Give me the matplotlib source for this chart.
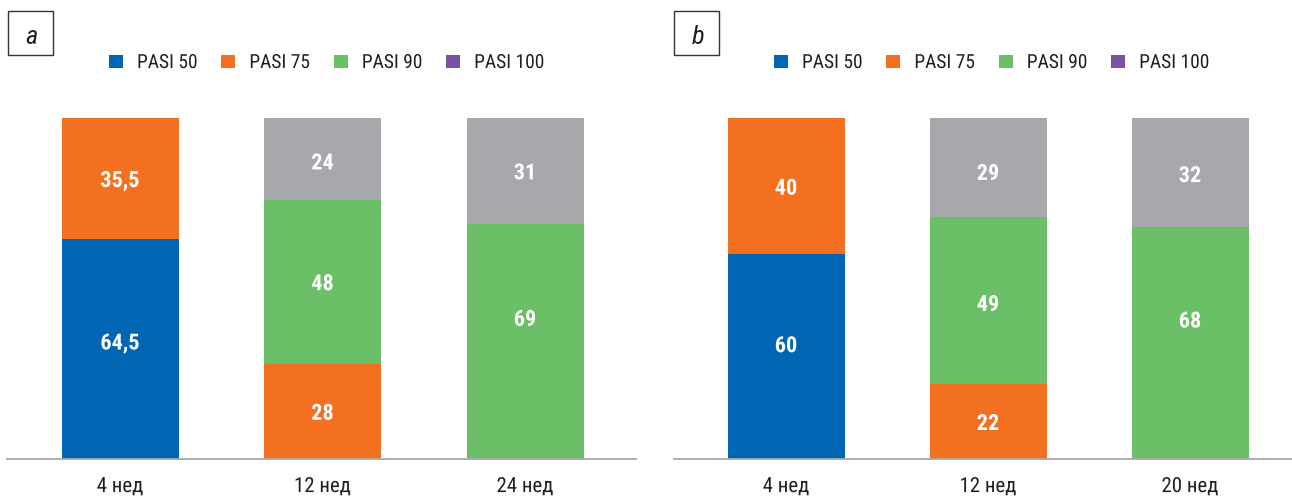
import matplotlib
matplotlib.use("Agg")
import matplotlib.pyplot as plt
from matplotlib.patches import Patch, Rectangle
from matplotlib.patheffects import AbstractPathEffect
from matplotlib.transforms import Affine2D
from matplotlib import font_manager

periods_a = ['4 нед', '12 нед', '24 нед']
pasi50_a = [64.5, 0, 0]
pasi75_a = [35.5, 28, 0]
pasi90_a = [0, 48, 69]
rest_a = [0, 24, 31]

periods_b = ['4 нед', '12 нед', '20 нед']
pasi50_b = [60, 0, 0]
pasi75_b = [40, 22, 0]
pasi90_b = [0, 49, 68]
rest_b = [0, 29, 32]

legend_labels = ['PASI 50', 'PASI 75', 'PASI 90', 'PASI 100']
legend_colors = ['#0066B3', '#F37021', '#6BBF67', '#7B52A3']
seg_colors = ['#0066B3', '#F37021', '#6BBF67', '#A7A8AB']

# label nudges in pixels (positive = up), per series, per bar (style only)
nudge_a = [[8, 0, 0], [0, 0, 0], [0, 0, 24], [0, -2, 0]]
nudge_b = [[13, 0, 0], [0, 0, 0], [0, -2, 24], [0, -4, -1]]

avail = {f.name for f in font_manager.fontManager.ttflist}
FONT = 'DejaVu Sans'
for cand in ['Roboto Condensed', 'Liberation Sans Narrow', 'Roboto', 'DejaVu Sans']:
    if cand in avail:
        FONT = cand
        break
plt.rcParams['font.family'] = [FONT, 'DejaVu Sans']
SX = 1.0 if 'Condensed' in FONT or 'Narrow' in FONT else None


class Condense(AbstractPathEffect):
    def __init__(self, sx, anchor='center'):
        super().__init__()
        self.sx = sx
        self.anchor = anchor

    def draw_path(self, renderer, gc, tpath, affine, rgbFace=None):
        ext = tpath.get_extents()
        cx = ext.x0 if self.anchor == 'left' else (ext.x0 + ext.x1) / 2
        t = Affine2D().translate(-cx, 0).scale(self.sx, 1).translate(cx, 0) + affine
        renderer.draw_path(gc, tpath, t, rgbFace)


def cond(sx, anchor='center'):
    if SX is not None:
        sx = 1.0
    return [Condense(sx, anchor)]


W, H = 1292, 499
fig = plt.figure(figsize=(W / 100, H / 100), dpi=100)
PX = 100 / (459 - 118)


def fmt(v):
    return ('%g' % v).replace('.', ',')


def panel(x0, x1, centers_px, periods, series, nudges, letter, box_x, legend_x):
    spacing = (centers_px[-1] - centers_px[0]) / 2
    left_lim = -(centers_px[0] - x0) / spacing
    right_lim = 2 + (x1 - centers_px[-1]) / spacing
    ax = fig.add_axes([x0 / W, (H - 459) / H, (x1 - x0) / W, (459 - 118) / H])
    xs = list(range(len(periods)))
    bottoms = [0] * len(periods)
    width = 117 / spacing
    for vals, col, nd in zip(series, seg_colors, nudges):
        ax.bar(xs, vals, width=width, bottom=bottoms, color=col, linewidth=0)
        for i, v in enumerate(vals):
            if v > 0:
                ax.text(xs[i], bottoms[i] + v / 2 + nd[i] * PX, fmt(v), ha='center',
                        va='center_baseline', color='white', fontsize=16, fontweight='bold',
                        path_effects=cond(0.8))
        bottoms = [b + v for b, v in zip(bottoms, vals)]
    ax.set_xlim(left_lim, right_lim)
    ax.set_ylim(0, 100)
    for s in ['top', 'right', 'left']:
        ax.spines[s].set_visible(False)
    ax.spines['bottom'].set_color('#A8A8A8')
    ax.spines['bottom'].set_linewidth(1.3)
    ax.set_yticks([])
    ax.set_xticks(xs)
    ax.set_xticklabels(periods, fontsize=15, color='#231F20')
    for t in ax.get_xticklabels():
        t.set_path_effects(cond(0.83))
    ax.tick_params(axis='x', length=0, pad=13)
    # letter box
    bx0, bx1, by0, by1 = box_x, box_x + 45, 11, 55
    fig.patches.append(Rectangle((bx0 / W, 1 - by1 / H), (bx1 - bx0) / W, (by1 - by0) / H,
                                 transform=fig.transFigure, fill=False,
                                 edgecolor='#333333', linewidth=1.0))
    fig.text((bx0 + bx1) / 2 / W + 1 / W, 1 - 35 / H, letter, ha='center', va='center_baseline',
             fontsize=19, style='italic', color='#231F20')
    handles = [Patch(facecolor=c, edgecolor='none') for c in legend_colors]
    leg = fig.legend(handles, legend_labels, loc='center left', ncol=4,
                     bbox_to_anchor=(legend_x / W, 1 - 63 / H), frameon=False,
                     fontsize=14, handlelength=0.72, handleheight=0.65,
                     handletextpad=0.72, columnspacing=1.22, labelcolor='#231F20',
                     borderpad=0, borderaxespad=0)
    for t in leg.get_texts():
        t.set_path_effects(cond(0.9, 'left'))
    return ax


panel(7, 636, [120, 322, 525], periods_a, [pasi50_a, pasi75_a, pasi90_a, rest_a], nudge_a,
      'a', 8, 109)
panel(674, 1292, [786, 988, 1190], periods_b, [pasi50_b, pasi75_b, pasi90_b, rest_b], nudge_b,
      'b', 674, 774)

fig.savefig('out.png', dpi=100)
